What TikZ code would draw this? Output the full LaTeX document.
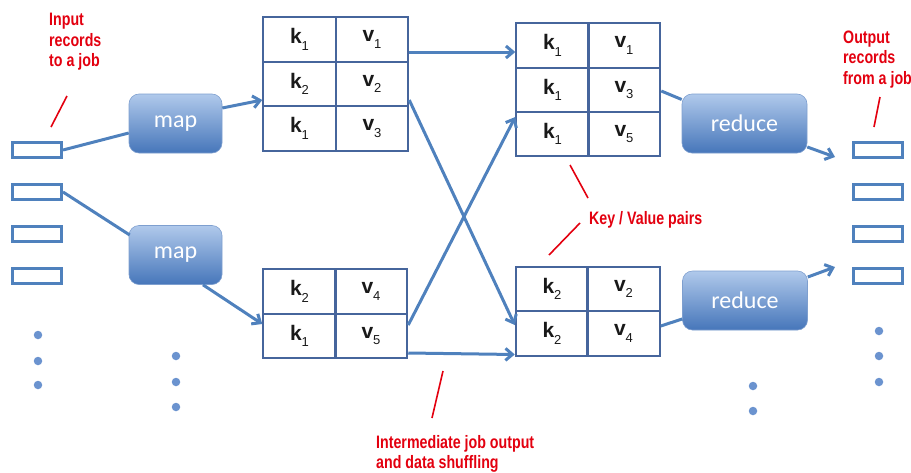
\documentclass[tikz,border=0pt]{standalone}
\usepackage{fontspec}
\setmainfont{Liberation Sans}
\newfontfamily\redfont[FakeStretch=0.79]{Liberation Sans Bold}
\newfontfamily\boxfont{Carlito}
\usetikzlibrary{arrows.meta,calc}
\definecolor{lineblue}{HTML}{4F81BD}
\definecolor{tabblue}{HTML}{46659C}
\definecolor{annred}{HTML}{E3000F}
\definecolor{gradtop}{HTML}{B0C9EB}
\definecolor{gradbot}{HTML}{4676BA}
\definecolor{dotblue}{HTML}{6B93CF}
\newcommand\kv[2]{\textbf{#1}\raisebox{-0.3em}{\fontsize{13}{13}\selectfont #2}}
\begin{document}
\begin{tikzpicture}[x=1pt,y=-1pt,
  rec/.style={draw=lineblue,line width=3pt,fill=white,minimum width=49pt,minimum height=15pt,inner sep=0pt},
  proc/.style={rounded corners=10pt,top color=gradtop,bottom color=gradbot,draw=gradbot!70!white,line width=0.6pt,minimum width=93pt,minimum height=59pt,text=white,font=\boxfont\fontsize{24}{24}\selectfont,inner sep=0pt},
  cell/.style={draw=tabblue,line width=2pt,minimum width=72.5pt,minimum height=44.5pt,inner sep=0pt,font=\fontsize{21}{21}\selectfont,text=black!90},
  conn/.style={draw=lineblue,line width=3pt},
  arr/.style={conn,-{Straight Barb[length=7pt,width=12pt]}},
  dotn/.style={circle,fill=dotblue,inner sep=0pt,minimum size=8.5pt},
  ann/.style={draw=annred,line width=1.6pt},
  lab/.style={text=annred,font=\redfont\fontsize{18}{20.5}\selectfont,align=left,inner sep=0pt,anchor=north west}]
\useasboundingbox (0,0) rectangle (911,472);

% input records
\node[rec] (in1) at (37,150) {};
\node[rec] (in2) at (37,192) {};
\node[rec] (in3) at (37,234) {};
\node[rec] (in4) at (37,276) {};
\node[dotn] (ld1) at (38,335) {};
\node[dotn] (ld2) at (38,361) {};
\node[dotn] (ld3) at (38,385) {};

% output records
\node[rec] (out1) at (878,150) {};
\node[rec] (out2) at (878,192) {};
\node[rec] (out3) at (878,234) {};
\node[rec] (out4) at (878,276) {};
\node[dotn] (od1) at (879,331) {};
\node[dotn] (od2) at (879,356) {};
\node[dotn] (od3) at (879,382) {};

% map boxes
\node[proc] (map1) at (175.5,123.5) {map};
\node[proc] (map2) at (175.5,255) {map};
\node[dotn] (md1) at (176,356) {};
\node[dotn] (md2) at (176,382) {};
\node[dotn] (md3) at (176,407) {};

% reduce boxes
\node[proc,minimum width=125pt] (red1) at (744.5,123.5) {reduce};
\node[proc,minimum width=125pt] (red2) at (745,300.5) {reduce};
\node[dotn] (rd1) at (753,386) {};
\node[dotn] (rd2) at (753,411) {};

% table 1
\node[cell] (t1k1) at (299.5,39.5) {\kv{k}{1}};
\node[cell] (t1v1) at (372,39.5) {\kv{v}{1}};
\node[cell] (t1k2) at (299.5,84) {\kv{k}{2}};
\node[cell] (t1v2) at (372,84) {\kv{v}{2}};
\node[cell] (t1k3) at (299.5,128.5) {\kv{k}{1}};
\node[cell] (t1v3) at (372,128.5) {\kv{v}{3}};

% table 2
\node[cell] (t2k1) at (299.5,291.5) {\kv{k}{2}};
\node[cell] (t2v1) at (371,291.5) {\kv{v}{4}};
\node[cell] (t2k2) at (299.5,336) {\kv{k}{1}};
\node[cell] (t2v2) at (371,336) {\kv{v}{5}};

% table 3
\node[cell] (t3k1) at (552.5,45.5) {\kv{k}{1}};
\node[cell] (t3v1) at (624,45.5) {\kv{v}{1}};
\node[cell] (t3k2) at (552.5,90) {\kv{k}{1}};
\node[cell] (t3v2) at (624,90) {\kv{v}{3}};
\node[cell] (t3k3) at (552.5,134) {\kv{k}{1}};
\node[cell] (t3v3) at (624,134) {\kv{v}{5}};

% table 4
\node[cell] (t4k1) at (552,289) {\kv{k}{2}};
\node[cell] (t4v1) at (623.5,289) {\kv{v}{2}};
\node[cell] (t4k2) at (552,333.5) {\kv{k}{2}};
\node[cell] (t4v2) at (623.5,333.5) {\kv{v}{4}};

% connectors
\draw[conn] (in1.east) -- ($(map1.west)+(0,9.5)$);
\draw[conn] (in2.east) -- ($(map2.west)+(1,-20)$);
\draw[arr] ($(map1.east)+(0,-15.5)$) -- ($(t1k2.west)+(0,16)$);
\draw[arr] ($(map2.south)+(27.5,0)$) -- ($(t2k2.west)+(0,-12)$);
\draw[arr] ($(t1v1.east)+(0,12.5)$) -- ($(t3k1.west)+(0,6.5)$);
\draw[arr] ($(t1v2.east)+(0,16)$) -- ($(t4k2.west)+(0,-8.5)$);
\draw[arr] ($(t2v2.east)+(0,-11)$) -- ($(t3k3.west)+(0,-17)$);
\draw[arr] ($(t2v2.east)+(0,17)$) -- ($(t4k2.west)+(0,21)$);
\draw[conn] ($(t3v2.east)+(0,1)$) -- ($(red1.west)+(0,-24)$);
\draw[arr] ($(red1.east)+(0,23.5)$) -- ($(out1.west)+(-17,7)$);
\draw[conn] ($(t4v2.east)+(0,-7.5)$) -- ($(red2.west)+(0,18.5)$);
\draw[arr] ($(red2.east)+(0,-23.5)$) -- ($(out4.west)+(-17,-9)$);

% annotations
\node[lab] (tin) at (49,13) {Input\\records\\to a job};
\node[lab] (tout) at (843,30.5) {Output\\records\\from a job};
\node[lab] (tkv) at (589,211) {Key / Value pairs};
\node[lab] (tim) at (376,435) {Intermediate job output\\and data shuffling};
\draw[ann] (67,96) -- (51,127);
\draw[ann] (880,97) -- (874,127);
\draw[ann] (570,165) -- (588,198);
\draw[ann] (580,223) -- (549,255);
\draw[ann] (443,371) -- (432,418);
\end{tikzpicture}
\end{document}
